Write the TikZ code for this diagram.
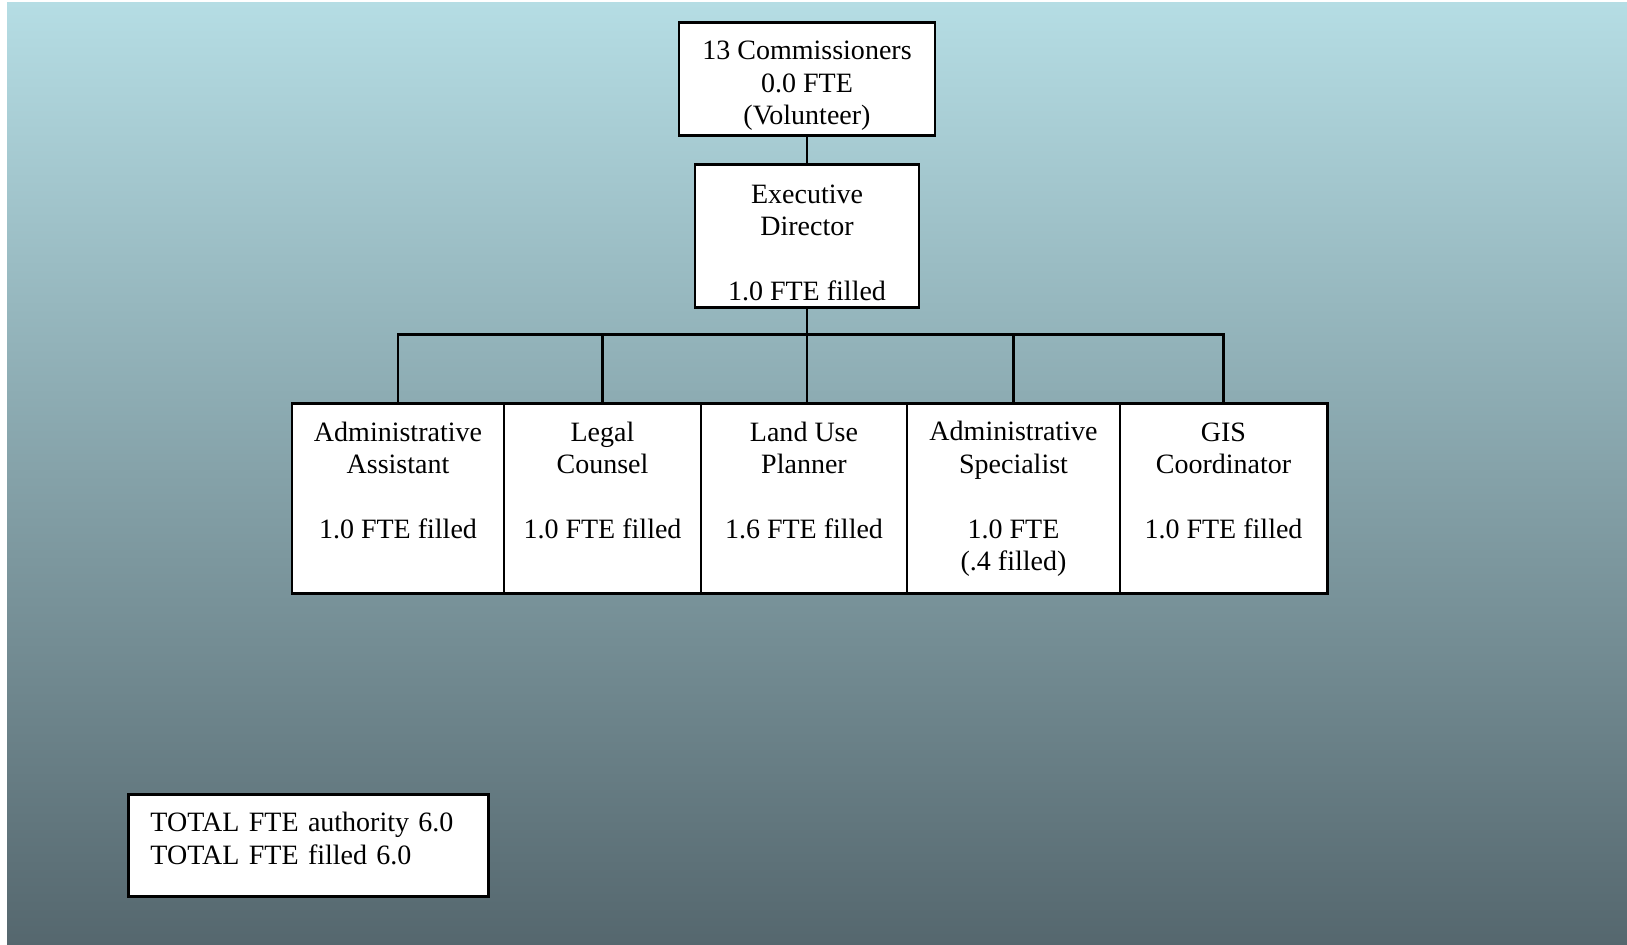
\documentclass[tikz,border=0pt]{standalone}
\usepackage{fontspec}
\setmainfont{Liberation Serif}
\usetikzlibrary{positioning}
\definecolor{skytop}{RGB}{181,221,228}
\definecolor{slatebottom}{RGB}{85,103,110}
\newcommand{\lift}[1]{\rule{0pt}{#1}}

\begin{document}
\begin{tikzpicture}[role_box/.style={draw,fill=white,line width=0.85pt,inner sep=0pt,align=center,font=\fontsize{7.97pt}{9.25pt}\selectfont},
    link/.style={line width=0.85pt}]

    % background
    \fill[white] (0,0) rectangle (16.27,-9.45);
    \shade[top color=skytop,bottom color=slatebottom] (0.07,-0.03) rectangle (16.27,-9.45);
    \useasboundingbox (0,0) rectangle (16.27,-9.45);

    \node[role_box,minimum width=2.56cm,minimum height=1.13cm] (comm) at (8.07,-0.795) {\lift{9pt}13 Commissioners\\0.0 FTE\\(Volunteer)};
    \node[role_box,minimum width=2.24cm,minimum height=1.43cm] (ed) at (8.07,-2.365) {\lift{9pt}Executive\\Director\\[9.25pt]1.0 FTE filled};

    \node[role_box,minimum width=2.12cm,minimum height=1.90cm] (aa) at (3.98,-4.99) {\lift{7pt}Administrative\\Assistant\\[9.25pt]1.0 FTE filled\\\strut};
    \node[role_box,minimum width=1.97cm,minimum height=1.90cm] (lc) at (6.025,-4.99) {\lift{7pt}Legal\\Counsel\\[9.25pt]1.0 FTE filled\\\strut};
    \node[role_box,minimum width=2.06cm,minimum height=1.90cm] (lup) at (8.04,-4.99) {\lift{7pt}Land Use\\Planner\\[9.25pt]1.6 FTE filled\\\strut};
    \node[role_box,minimum width=2.13cm,minimum height=1.90cm] (as) at (10.135,-4.99) {Administrative\\Specialist\\[9.25pt]1.0 FTE\\(.4 filled)};
    \node[role_box,minimum width=2.07cm,minimum height=1.90cm] (gis) at (12.235,-4.99) {\lift{7pt}GIS\\Coordinator\\[9.25pt]1.0 FTE filled\\\strut};

    \node[role_box,align=left,anchor=north west,inner xsep=0.22cm,text width=3.16cm,minimum height=1.02cm] (total) at (1.27,-7.93) {TOTAL FTE authority 6.0\\TOTAL FTE filled 6.0\\[-8pt]\strut};

    \coordinate (bar) at (8.07,-3.35);
    \draw[link] (comm) -- (ed);
    \draw[link] (ed) -- (bar);
    \draw[link] (aa.north) |- (bar) -| (gis.north);
    \draw[link] (lc.north) -- (lc.north |- bar);
    \draw[link] (bar) -- (bar |- lup.north);
    \draw[link] (as.north) -- (as.north |- bar);
\end{tikzpicture}
\end{document}
